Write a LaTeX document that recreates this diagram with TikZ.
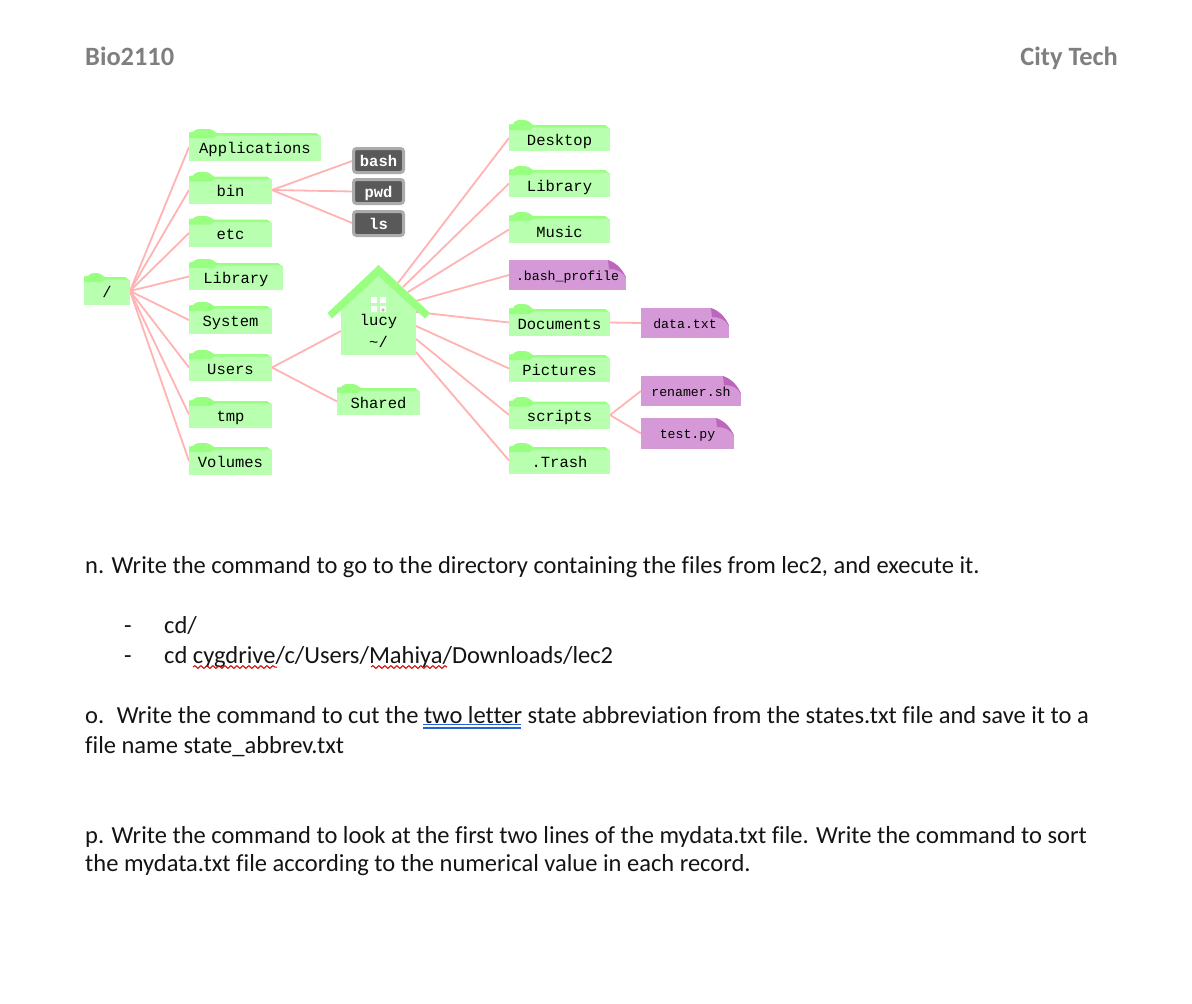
\documentclass[tikz,border=0pt]{standalone}
\usepackage{fontspec}
\setmainfont{Carlito}[Ligatures=NoCommon]
\newfontfamily\monof{Liberation Mono}
\usetikzlibrary{backgrounds,decorations.pathmorphing}
\definecolor{fbody}{HTML}{B9FFB0}
\definecolor{ftab}{HTML}{99FF80}
\definecolor{pbody}{HTML}{D599D8}
\definecolor{pfold}{HTML}{BC66BC}
\definecolor{link}{HTML}{FFB3B3}
\definecolor{hdr}{HTML}{7F7F7F}
\definecolor{exfill}{HTML}{595959}
\definecolor{exline}{HTML}{ABABAB}
\definecolor{wordblue}{HTML}{2562D6}
\tikzset{
 x=1pt,y=-1pt,
 boxbase/.style={inner sep=0pt,outer sep=0pt,text height=13pt,text depth=0pt},
 foldernode/.style={boxbase,fill=fbody,font=\monof\fontsize{15.5}{16}\selectfont},
 filenode/.style={boxbase,fill=pbody,text height=10.5pt,font=\monof\fontsize{13.2}{14}\selectfont},
 execnode/.style={inner sep=0pt,outer sep=0pt,fill=exfill,draw=exline,line width=3pt,rounded corners=3pt,text=white,text height=11.5pt,text depth=0pt,font=\monof\bfseries\fontsize{15.5}{16}\selectfont},
 housenode/.style={inner sep=0pt,outer sep=0pt,fill=fbody,align=center,font=\monof\fontsize{15.5}{22}\selectfont},
 linkline/.style={draw=link,line width=1.8pt},
 doc/.style={anchor=base west,inner sep=0pt,font=\fontsize{24.5}{25}\selectfont,text=black!92},
 hdrtext/.style={inner sep=0pt,text=hdr,font=\bfseries\fontsize{26.4}{27}\selectfont},
 squiggle/.style={draw=red!85!black,line width=1pt,decorate,decoration={snake,amplitude=1.4pt,segment length=6pt}},
 blueline/.style={draw=wordblue,line width=1.5pt},
}
% name, x0, x1, ytop, ybot, ytab, xtabright, text
\newcommand\mkfolder[8]{%
 \pgfmathsetmacro\bw{#3-#2}\pgfmathsetmacro\bh{#5-#4}%
 \node[foldernode,minimum width=\bw pt,minimum height=\bh pt] (#1) at ({(#2+#3)/2},{(#4+#5)/2}) {#8};
 \fill[white] ({#3-5},#4) -- (#3+0.5,#4-0.5) -- (#3+0.5,#4+4) -- cycle;
 \fill[ftab] (#2,#4+5) -- (#2,#4-0.5) -- (#2+4,#4-1) [rounded corners=2pt] -- (#2+7,#6) -- ({#7-6},#6) [sharp corners] -- ({#7},#4) -- ({#3-5},#4) -- (#3,#4+4) -- (#3-3,#4+2.5) -- ({#7},#4+2.5) -- ({#7-3},#4+5) -- cycle;
}
% name, x0, x1, ytop, ybot, text
\newcommand\mkfile[6]{%
 \pgfmathsetmacro\bw{#3-#2}\pgfmathsetmacro\bh{#5-#4}%
 \node[filenode,minimum width=\bw pt,minimum height=\bh pt] (#1) at ({(#2+#3)/2},{(#4+#5)/2}) {#6};
 \fill[white] (#3-18,#4-0.5) -- (#3+0.5,#4-0.5) -- (#3+0.5,#4+18) .. controls (#3-3,#4+10) and (#3-9,#4+4) .. (#3-18,#4) -- cycle;
 \fill[pfold] (#3-18,#4) .. controls (#3-9,#4+3) and (#3-3,#4+10) .. (#3,#4+18) .. controls (#3-3,#4+12) and (#3-9,#4+9) .. (#3-17,#4+9) -- cycle;
}
\newcommand\mkexec[5]{%
 \pgfmathsetmacro\bw{#3-#2-3}\pgfmathsetmacro\bh{#5-#4-3}%
 \node[execnode,minimum width=\bw pt,minimum height=\bh pt] (exec#1) at ({(#2+#3)/2},{(#4+#5)/2}) {#1};
}
\begin{document}
\begin{tikzpicture}
\useasboundingbox (0,0) rectangle (1192,1004);
% header
\node[hdrtext,anchor=base west] (hleft) at (85,65) {Bio2110};
\node[hdrtext,anchor=base east] (hright) at (1118,65) {City Tech};
% left tree
\mkfolder{root}{84}{130}{277}{305}{273}{105}{/}
\mkfolder{apps}{189}{321}{133}{161}{129}{217}{Applications}
\mkfolder{bin}{189}{272}{176.5}{203.5}{172}{214}{bin}
\mkfolder{etc}{189}{272}{219.5}{246.5}{216}{214}{etc}
\mkfolder{lib}{189}{283}{263}{290}{259}{217}{Library}
\mkfolder{sys}{189}{272}{306}{334}{302}{214}{System}
\mkfolder{users}{189}{272}{354}{381}{350}{214}{Users}
\mkfolder{tmp}{189}{272}{401}{428}{397}{214}{tmp}
\mkfolder{vols}{189}{272}{447}{475}{443}{214}{Volumes}
\mkexec{bash}{352}{405}{147}{174}
\mkexec{pwd}{352}{405}{178}{205}
\mkexec{ls}{352}{405}{210}{237}
% home
\node[housenode,minimum width=75pt,minimum height=48pt] (lucy) at (378.5,331) {\raisebox{-2pt}{lucy}\\\raisebox{-2pt}{{\char`\~}/}};
\fill[fbody] (341,308) -- (378.5,276) -- (416,308) -- cycle;
\fill[ftab] (378.5,265) -- (430,313) -- (425,318.5) -- (378.5,276) -- (332,318.5) -- (327.5,313) -- cycle;
\fill[white] (371,297) rectangle (377,303) (380,297) rectangle (386,303) (371,306) rectangle (377,312) (380,306) rectangle (386,312);
\fill[black!25] (383,310) circle (1.8);
\mkfolder{shared}{337}{420}{388}{415}{384}{361}{Shared}
% right tree
\begin{scope}[foldernode/.append style={text height=15pt}]
\mkfolder{desk}{509}{610}{125}{151}{120}{533}{Desktop}
\mkfolder{hlib}{509}{610}{170}{197}{166}{533}{Library}
\mkfolder{music}{509}{610}{216}{243}{212}{533}{Music}
\end{scope}
\mkfile{bashp}{509}{626}{260}{290}{.bash\_profile}
\mkfolder{docs}{509}{610}{309}{336}{304}{533}{Documents}
\mkfolder{pics}{509}{610}{355}{382}{351}{533}{Pictures}
\mkfolder{scripts}{509}{610}{401.5}{428.5}{397}{533}{scripts}
\mkfolder{trash}{509}{610}{447}{474}{443}{533}{.Trash}
\mkfile{data}{641}{729}{308}{338}{data.txt}
\mkfile{renamer}{641}{741}{376}{406}{renamer.sh}
\mkfile{testpy}{641}{734}{418}{449}{test.py}
% connectors
\begin{scope}[on background layer]
\fill[white] (0,0) rectangle (1192,1004);
\foreach \t in {apps,bin,etc,lib,sys,users,tmp,vols} \draw[linkline] (root.east) -- (\t.west);
\foreach \t in {bash,pwd,ls} \draw[linkline] (bin.east) -- (exec\t.west);
\draw[linkline] (users.east) -- (lucy.west);
\draw[linkline] (users.east) -- (shared.west);
\draw[linkline] ([shift={(-18,-48)}]lucy.east) -- (desk.west);
\draw[linkline] ([shift={(-13,-44)}]lucy.east) -- (hlib.west);
\draw[linkline] ([shift={(-8,-39)}]lucy.east) -- (music.west);
\draw[linkline] ([shift={(0,-30)}]lucy.east) -- (bashp.west);
\draw[linkline] ([shift={(0,-19)}]lucy.east) -- (docs.west);
\draw[linkline] ([shift={(0,-5)}]lucy.east) -- (pics.west);
\draw[linkline] ([shift={(0,8)}]lucy.east) -- (scripts.west);
\draw[linkline] ([shift={(0,21)}]lucy.east) -- (trash.west);
\draw[linkline] (docs.east) -- (data.west);
\draw[linkline] (scripts.east) -- (renamer.west);
\draw[linkline] (scripts.east) -- (testpy.west);
\end{scope}
% text
\node[doc] (t1) at (85,573) {n. Write the command to go to the directory containing the files from lec2, and execute it.};
\node[doc] (d1) at (124,633) {-};
\node[doc] (t2) at (164,633) {cd/};
\node[doc] (d2) at (124,663) {-};
\node[doc] (t3) at (164,663) {cd cygdrive/c/Users/Mahiya/Downloads/lec2};
\node[doc] (t4) at (85,723) {o.\ \ \hspace{1.5pt}Write the command to cut the two letter state abbreviation from the states.txt file and save it to a};
\node[doc] (t5) at (85,753) {file name state\_abbrev.txt};
\node[doc] (t6) at (85,843) {p. Write the command to look at the first two lines of the mydata.txt file. Write the command to sort};
\node[doc] (t7) at (85,871) {the mydata.txt file according to the numerical value in each record.};
\draw[squiggle] (193,667) -- (277,667);
\draw[squiggle] (371,667) -- (447,667);
\draw[blueline] (423,724.5) -- (521,724.5) (423,728) -- (521,728);
\end{tikzpicture}
\end{document}
